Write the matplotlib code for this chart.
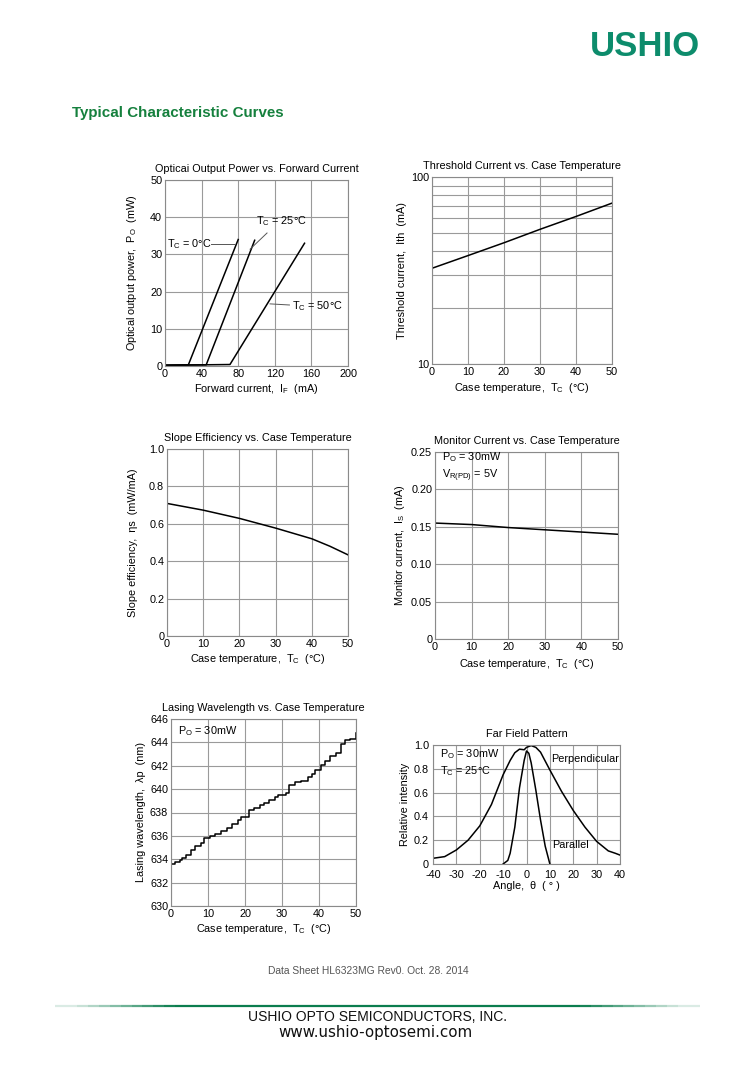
import numpy as np
import matplotlib
matplotlib.use('Agg')
import matplotlib.pyplot as plt
from matplotlib.ticker import FixedLocator, NullFormatter

plt.rcParams['font.family'] = ['Liberation Sans', 'DejaVu Sans']
plt.rcParams['mathtext.default'] = 'regular'
plt.rcParams['axes.unicode_minus'] = False

# Optical output power vs forward current
iop_0 = [0, 25.5, 80]
pop_0 = [0.2, 0.3, 34]
iop_25 = [0, 45, 98]
pop_25 = [0.2, 0.3, 33.8]
iop_50 = [0, 71, 152.5]
pop_50 = [0.2, 0.4, 33]

# Threshold current vs case temp
tc_ith = [0, 10, 20, 30, 40, 50]
ith = [32.5, 38, 44.5, 52.5, 61.5, 72.5]

# Slope efficiency vs case temp
tc_eta = [0, 10, 20, 30, 40, 45, 50]
eta = [0.709, 0.673, 0.629, 0.577, 0.52, 0.48, 0.434]

# Monitor current vs case temp
tc_is = [0, 10, 20, 30, 40, 50]
i_s = [0.155, 0.153, 0.149, 0.146, 0.143, 0.14]

# Lasing wavelength vs case temp (stepped)
tc_lam = [0, 1, 2.5, 3, 4, 5.5, 6.5, 8, 9, 10.5, 12, 13.5, 15, 16.5, 18, 19,
          21, 22.5, 24, 25, 26.5, 28, 29, 31, 32, 33.5, 35, 37, 38, 39, 40.5,
          41.5, 43, 44.5, 46, 47, 48.5, 50]
lam = [633.6, 633.77, 633.9, 634.1, 634.4, 634.8, 635.1, 635.4, 635.8, 636.0,
       636.2, 636.45, 636.7, 637.0, 637.4, 637.65, 638.2, 638.4, 638.6, 638.85,
       639.1, 639.3, 639.5, 639.7, 640.35, 640.6, 640.7, 641.0, 641.3, 641.6,
       642.1, 642.4, 642.8, 643.1, 643.9, 644.2, 644.3, 644.8]

# Far field pattern
ang_perp = [-40, -35, -30, -25, -20, -15, -10, -7, -5, -3, -1, 0, 2, 4, 6, 10,
            15, 20, 25, 30, 35, 38, 40]
int_perp = [0.048, 0.062, 0.118, 0.20, 0.32, 0.50, 0.75, 0.87, 0.935, 0.965,
            0.96, 0.98, 0.995, 0.98, 0.94, 0.79, 0.61, 0.45, 0.31, 0.19, 0.11,
            0.09, 0.075]
ang_par = [-10, -8, -7, -5, -3, -1, 0, 1, 2, 4, 6, 8, 10]
int_par = [0.0, 0.03, 0.09, 0.31, 0.64, 0.87, 0.95, 0.93, 0.85, 0.62, 0.37,
           0.15, 0.0]

W, H = 754, 1067
fig = plt.figure(figsize=(W / 100, H / 100), dpi=100)

FS = 7.8
GRID = '#9a9a9a'


def make_ax(l, r, t, b):
    ax = fig.add_axes([l / W, 1 - b / H, (r - l) / W, (b - t) / H])
    for s in ax.spines.values():
        s.set_color('#8a8a8a')
        s.set_linewidth(0.8)
    ax.tick_params(length=0, labelsize=FS, pad=2)
    ax.grid(True, color=GRID, lw=0.8)
    ax.set_axisbelow(True)
    return ax


xlab_tc = 'Case temperature,  $T_C$  (°C)'

# 1. Optical output power
ax = make_ax(165, 348, 180, 366)
ax.plot(iop_0, pop_0, color='k', lw=1.1)
ax.plot(iop_25, pop_25, color='k', lw=1.1)
ax.plot(iop_50, pop_50, color='k', lw=1.1)
ax.set_xlim(0, 200)
ax.set_ylim(0, 50)
ax.set_xticks(range(0, 201, 40))
ax.set_yticks(range(0, 51, 10))
ax.set_title('Opticai Output Power vs. Forward Current', fontsize=FS, pad=6)
ax.set_xlabel('Forward current,  $I_F$  (mA)', fontsize=FS, labelpad=2)
ax.set_ylabel('Optical output power,  $P_O$  (mW)', fontsize=FS, labelpad=8)
ax.text(2, 32.8, '$T_C$ = 0°C', fontsize=FS, va='center', ha='left')
ax.plot([50, 76.5], [32.8, 32.8], color='#555555', lw=0.7)
ax.text(100, 39, '$T_C$ = 25°C', fontsize=FS, va='center', ha='left')
ax.plot([111.5, 93], [35.75, 31.4], color='#555555', lw=0.7)
ax.text(139, 16.1, '$T_C$ = 50°C', fontsize=FS, va='center', ha='left')
ax.plot([136, 114.8], [16.4, 16.7], color='#555555', lw=0.7)

# 2. Threshold current
ax = make_ax(432, 612, 177, 364)
ax.plot(tc_ith, ith, color='k', lw=1.1)
ax.set_yscale('log')
ax.set_xlim(0, 50)
ax.set_ylim(10, 100)
ax.set_xticks(range(0, 51, 10))
ax.yaxis.set_major_locator(FixedLocator([10, 100]))
ax.yaxis.set_minor_locator(FixedLocator([20, 30, 40, 50, 60, 70, 80, 90]))
ax.yaxis.set_minor_formatter(NullFormatter())
ax.set_yticklabels(['10', '100'])
ax.tick_params(which='minor', length=0)
ax.grid(True, which='minor', axis='y', color=GRID, lw=0.8)
ax.set_title('Threshold Current vs. Case Temperature', fontsize=FS, pad=6)
ax.set_xlabel(xlab_tc, fontsize=FS, labelpad=3)
ax.set_ylabel('Threshold current,  Ith  (mA)', fontsize=FS, labelpad=3)

# 3. Slope efficiency
ax = make_ax(167, 348, 449, 636)
ax.plot(tc_eta, eta, color='k', lw=1.1)
ax.set_xlim(0, 50)
ax.set_ylim(0, 1.0)
ax.set_xticks(range(0, 51, 10))
ax.set_yticks([0, 0.2, 0.4, 0.6, 0.8, 1.0])
ax.set_yticklabels(['0', '0.2', '0.4', '0.6', '0.8', '1.0'])
ax.set_title('Slope Efficiency vs. Case Temperature', fontsize=FS, pad=6)
ax.set_xlabel(xlab_tc, fontsize=FS, labelpad=2)
ax.set_ylabel('Slope efficiency,  ηs  (mW/mA)', fontsize=FS, labelpad=8)

# 4. Monitor current
ax = make_ax(435, 618, 452, 639)
ax.plot(tc_is, i_s, color='k', lw=1.1)
ax.set_xlim(0, 50)
ax.set_ylim(0, 0.25)
ax.set_xticks(range(0, 51, 10))
ax.set_yticks([0, 0.05, 0.10, 0.15, 0.20, 0.25])
ax.set_yticklabels(['0', '0.05', '0.10', '0.15', '0.20', '0.25'])
ax.set_title('Monitor Current vs. Case Temperature', fontsize=FS, pad=6)
ax.set_xlabel(xlab_tc, fontsize=FS, labelpad=4)
ax.set_ylabel('Monitor current,  $I_S$  (mA)', fontsize=FS, labelpad=3)
ax.text(1.9, 0.230, '$P_O$ = 30mW\n$V_{R(PD)}$ = 5V', fontsize=FS,
        va='center', linespacing=1.3)

# 5. Lasing wavelength
ax = make_ax(171, 356, 719, 906)
ax.plot(tc_lam, lam, color='k', lw=1.1, drawstyle='steps-post')
ax.set_xlim(0, 50)
ax.set_ylim(630, 646)
ax.set_xticks(range(0, 51, 10))
ax.set_yticks(range(630, 647, 2))
ax.set_title('Lasing Wavelength vs. Case Temperature', fontsize=FS, pad=6)
ax.set_xlabel(xlab_tc, fontsize=FS, labelpad=2)
ax.set_ylabel('Lasing wavelength,  λp  (nm)', fontsize=FS, labelpad=3)
ax.text(1.9, 645.0, '$P_O$ = 30mW', fontsize=FS, va='center')

# 6. Far field pattern
ax = make_ax(433, 620, 745, 864)
ax.plot(ang_perp, int_perp, color='k', lw=1.1)
ax.plot(ang_par, int_par, color='k', lw=1.1)
ax.set_xlim(-40, 40)
ax.set_ylim(0, 1.0)
ax.set_xticks(range(-40, 41, 10))
ax.set_yticks([0, 0.2, 0.4, 0.6, 0.8, 1.0])
ax.set_yticklabels(['0', '0.2', '0.4', '0.6', '0.8', '1.0'])
ax.tick_params(axis='x', pad=4)
ax.tick_params(axis='y', pad=3)
ax.set_title('Far Field Pattern', fontsize=FS, pad=6)
ax.set_xlabel('Angle,  θ  ( ° )', fontsize=FS, labelpad=1)
ax.set_ylabel('Relative intensity', fontsize=FS, labelpad=3)
ax.text(-37.2, 0.85, '$P_O$ = 30mW\n$T_C$ = 25°C', fontsize=FS, va='center',
        linespacing=1.3)
ax.text(10.5, 0.88, 'Perpendicular', fontsize=FS, va='center')
ax.text(11, 0.16, 'Parallel', fontsize=FS, va='center')

# header / footer
fig.text(645 / W, 1 - 46 / H, 'USHIO', color='#0d8c6c', fontsize=25,
         fontweight='bold', ha='center', va='center')
fig.text(72 / W, 1 - 113 / H, 'Typical Characteristic Curves', color='#15803d',
         fontsize=10.9, fontweight='bold', ha='left', va='center')
fig.text(368 / W, 1 - 971 / H, 'Data Sheet HL6323MG Rev0. Oct. 28. 2014',
         color='#555555', fontsize=7.4, ha='center', va='center')

# fading green rule
xs = np.linspace(55, 700, 60)
for k in range(len(xs) - 1):
    xm = 0.5 * (xs[k] + xs[k + 1])
    a = min(1.0, (xm - 55) / 120, (700 - xm) / 120)
    fig.add_artist(plt.Line2D([xs[k] / W, xs[k + 1] / W], [1 - 1006 / H] * 2,
                              color='#0b7d4e', lw=1.6, alpha=max(a, 0.15),
                              solid_capstyle='butt'))

fig.text(377 / W, 1 - 1017 / H, 'USHIO OPTO SEMICONDUCTORS, INC.', color='#111111',
         fontsize=10, ha='center', va='center')
fig.text(375 / W, 1 - 1033 / H, 'www.ushio-optosemi.com', color='#111111',
         fontsize=10.9, ha='center', va='center', family='DejaVu Sans')

fig.savefig('out.png', dpi=100)
